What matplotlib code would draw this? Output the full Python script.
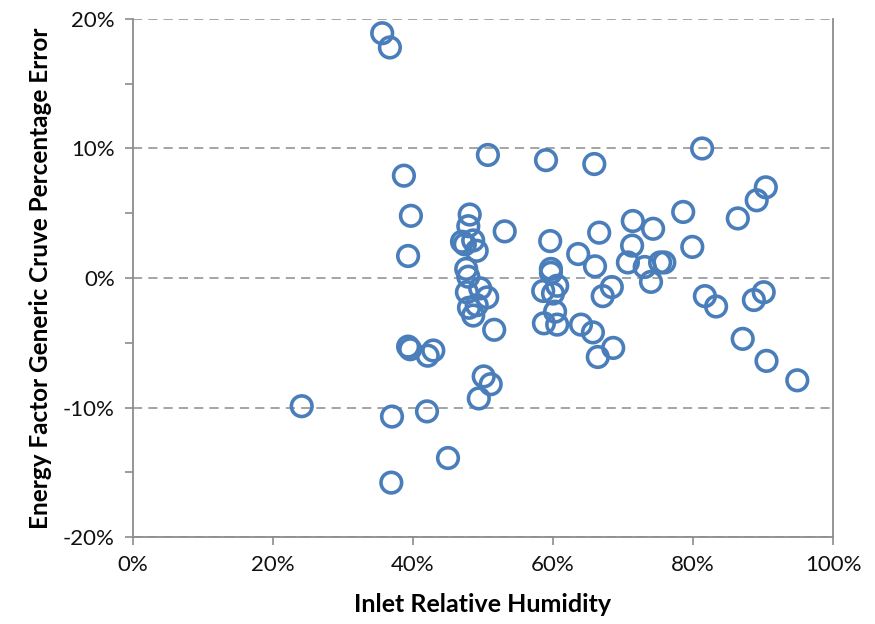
import matplotlib
matplotlib.use("Agg")
import matplotlib.pyplot as plt
from matplotlib.ticker import MultipleLocator, PercentFormatter

# Inlet relative humidity (%) and energy factor error (%) for each test point
humidity = [
    35.6, 36.7, 50.7, 59.0, 65.9, 81.3, 38.7, 39.7, 39.3, 48.1,
    47.9, 47.0, 47.4, 48.6, 49.1, 53.1, 47.6, 47.9, 47.7, 49.6,
    50.6, 48.0, 49.1, 48.6, 51.6, 39.3, 39.6, 42.1, 42.9, 50.1,
    51.1, 49.4, 24.1, 37.0, 42.0, 45.0, 36.9, 59.6, 66.6, 71.4,
    74.3, 78.6, 79.9, 63.6, 66.0, 71.3, 70.7, 73.1, 74.0, 75.3,
    75.9, 59.7, 59.7, 60.6, 58.6, 60.0, 68.4, 67.1, 60.3, 58.7,
    60.6, 64.0, 65.7, 68.6, 66.4, 81.7, 83.3, 90.4, 89.1, 86.4,
    88.7, 90.1, 87.1, 90.5, 94.9,
]
ef_error = [
    18.9, 17.8, 9.5, 9.1, 8.8, 10.0, 7.9, 4.8, 1.7, 4.9,
    4.0, 2.8, 2.6, 2.9, 2.1, 3.6, 0.7, 0.1, -1.1, -0.8,
    -1.5, -2.3, -2.1, -2.9, -4.0, -5.3, -5.5, -6.0, -5.6, -7.6,
    -8.2, -9.3, -9.9, -10.7, -10.3, -13.9, -15.8, 2.85, 3.5, 4.4,
    3.8, 5.1, 2.4, 1.85, 0.9, 2.5, 1.2, 0.85, -0.3, 1.2,
    1.2, 0.7, 0.4, -0.6, -1.0, -1.2, -0.7, -1.4, -2.6, -3.5,
    -3.6, -3.6, -4.2, -5.4, -6.1, -1.4, -2.2, 7.0, 6.0, 4.6,
    -1.7, -1.1, -4.7, -6.4, -7.9,
]

plt.rcParams['font.family'] = ['Lato', 'DejaVu Sans']
plt.rcParams['axes.unicode_minus'] = False

fig = plt.figure(figsize=(8.75, 6.24), dpi=100)
ax = fig.add_axes([0.152, 0.1394, 0.800, 0.8302])

ax.scatter(humidity, ef_error, s=220, facecolors='none',
           edgecolors='#4A7EBB', linewidths=2.6, zorder=3, clip_on=False)

ax.set_xlim(0, 100)
ax.set_ylim(-20, 20)
ax.xaxis.set_major_locator(MultipleLocator(20))
ax.yaxis.set_major_locator(MultipleLocator(10))
ax.yaxis.set_minor_locator(MultipleLocator(5))
ax.xaxis.set_major_formatter(PercentFormatter(decimals=0))
ax.yaxis.set_major_formatter(PercentFormatter(decimals=0))

# dashed horizontal gridlines like the spreadsheet original
ax.yaxis.grid(True, which='major', linestyle=(0, (6, 4)), color='#8C8C8C', linewidth=1.1)
ax.set_axisbelow(True)

grey = '#8C8C8C'
ax.spines['top'].set_visible(False)
for side in ('left', 'bottom', 'right'):
    ax.spines[side].set_color(grey)
    ax.spines[side].set_linewidth(1.3)

ax.tick_params(axis='both', which='both', direction='out', color=grey,
               width=1.2, labelsize=16, labelcolor='#111111')
ax.tick_params(axis='both', which='major', length=6, pad=7)
ax.tick_params(axis='y', which='minor', length=6)

ax.set_xlabel('Inlet Relative Humidity', fontsize=18, fontweight='bold', labelpad=13)
ax.set_ylabel('Energy Factor Generic Cruve Percentage Error', fontsize=17.5,
              fontweight='bold', labelpad=8)

plt.savefig('out.png', dpi=100)
